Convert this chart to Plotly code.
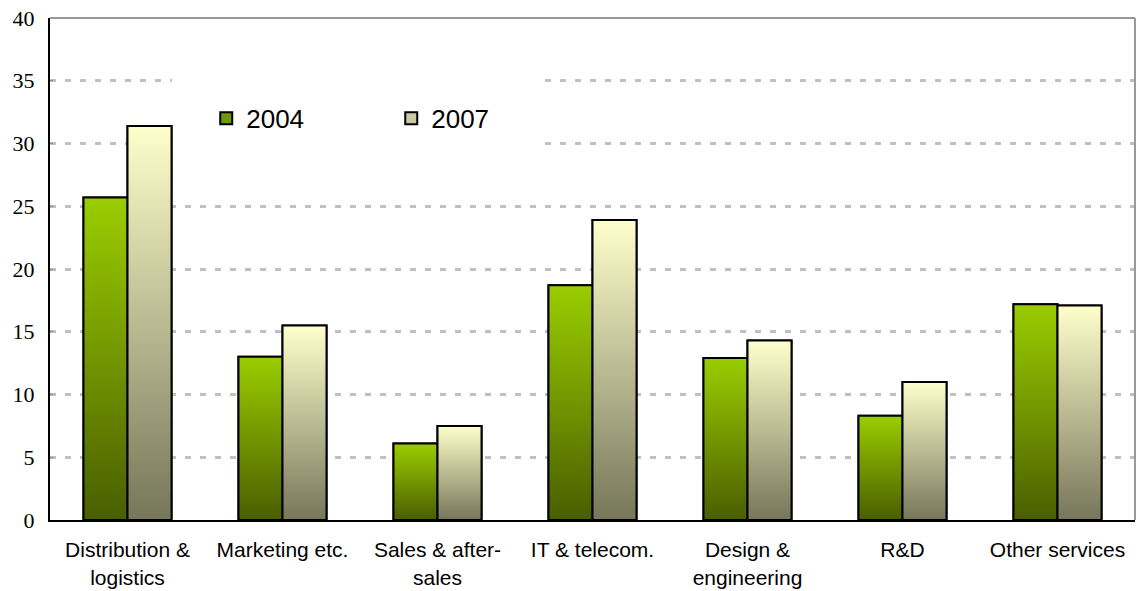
import plotly.graph_objects as go

categories = ["Distribution &<br>logistics", "Marketing etc.", "Sales & after-<br>sales",
              "IT & telecom.", "Design &<br>engineering", "R&D", "Other services"]
series_names = ["2004", "2007"]
values_2004 = [25.7, 13.0, 6.1, 18.7, 12.9, 8.3, 17.2]
values_2007 = [31.4, 15.5, 7.5, 23.9, 14.3, 11.0, 17.1]
y_ticks = [0, 5, 10, 15, 20, 25, 30, 35, 40]

W = 0.284
styles = {
    "2004": dict(offset=-W, bottom="#4a5e00", top="#9acd00", solid="#6f9a05"),
    "2007": dict(offset=0.0, bottom="#76765a", top="#ffffcc", solid="#c9c9a2"),
}

fig = go.Figure()
xpos = list(range(len(categories)))
for name, vals in zip(series_names, [values_2004, values_2007]):
    st = styles[name]
    fig.add_trace(go.Bar(
        x=xpos, y=vals, name=name, width=W, offset=st["offset"],
        marker=dict(color=st["solid"], line=dict(color="black", width=2)),
    ))
# gradient overlays built from the same data
for name, vals in zip(series_names, [values_2004, values_2007]):
    st = styles[name]
    for i, v in zip(xpos, vals):
        x0 = i + st["offset"]
        x1 = x0 + W
        fig.add_trace(go.Scatter(
            x=[x0, x1, x1, x0, x0], y=[0, 0, v, v, 0],
            mode="lines", fill="toself",
            fillgradient=dict(type="vertical", start=0, stop=v,
                              colorscale=[[0, st["bottom"]], [1, st["top"]]]),
            line=dict(color="black", width=2),
            showlegend=False, hoverinfo="skip",
        ))

fig.update_layout(
    width=1138, height=591,
    margin=dict(l=50, r=3, t=18, b=71),
    plot_bgcolor="white", paper_bgcolor="white",
    barmode="overlay",
    showlegend=True,
    legend=dict(orientation="h", x=0.144, y=0.80, xanchor="left", yanchor="middle",
                font=dict(family="Liberation Sans, Arial", size=26, color="black"),
                entrywidth=140, entrywidthmode="pixels", bgcolor="rgba(0,0,0,0)",
                itemsizing="constant"),
    shapes=[
        # white backing that hides gridlines behind the legend
        dict(type="rect", xref="x", yref="y", x0=0.287, x1=2.655, y0=29.5, y1=35.5,
             fillcolor="white", line=dict(width=0), layer="between"),
        dict(type="line", xref="x domain", yref="y domain", x0=0, x1=1, y0=1, y1=1,
             line=dict(color="#999999", width=2), layer="above"),
        dict(type="line", xref="x domain", yref="y domain", x0=1, x1=1, y0=0, y1=1,
             line=dict(color="#999999", width=2), layer="above"),
    ],
)
fig.update_xaxes(
    range=[-0.5, 6.5], tickvals=xpos, ticktext=categories,
    showgrid=False, zeroline=False, showline=True, linecolor="black", linewidth=2,
    ticks="", ticklabelstandoff=10,
    tickfont=dict(family="Liberation Sans, Arial", size=21, color="black"),
)
fig.update_yaxes(
    range=[0, 40], tickvals=y_ticks, showgrid=True, gridcolor="#c0c0c0", gridwidth=2.5,
    griddash="6px,9px", zeroline=False, showline=True, linecolor="black", linewidth=2,
    ticks="inside", ticklen=3, tickcolor="#888888", ticklabelstandoff=9,
    tickfont=dict(family="Liberation Serif, Times New Roman", size=22, color="black"),
)

fig.write_html("out.html")
